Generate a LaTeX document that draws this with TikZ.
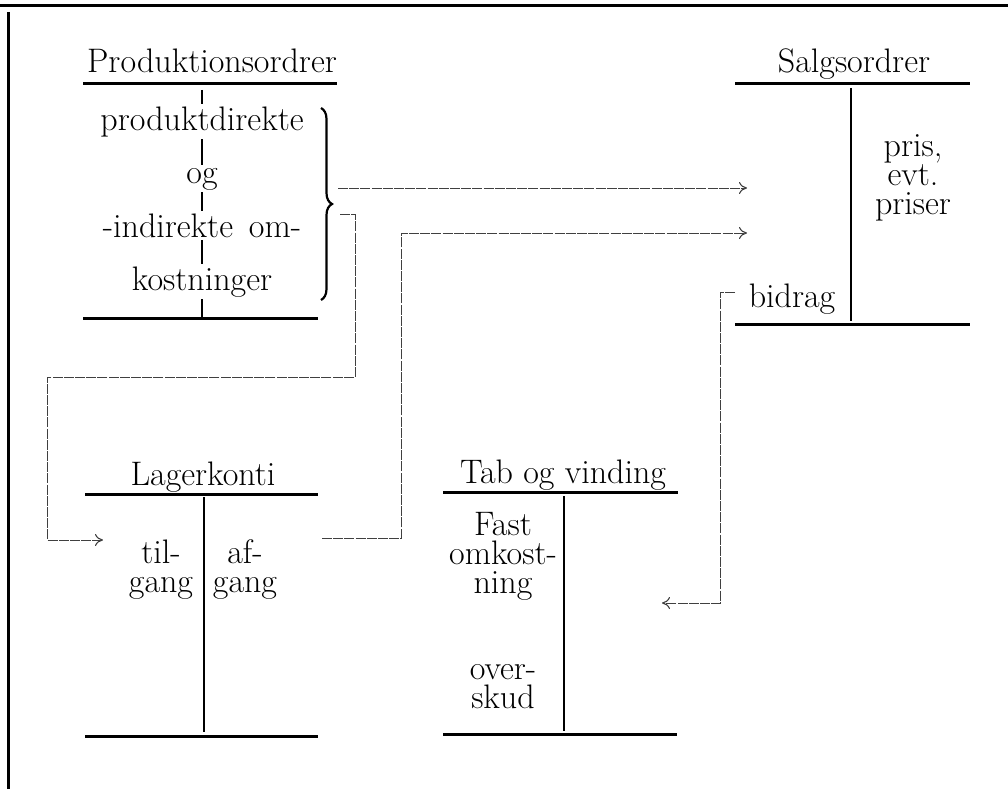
\documentclass[tikz,border=0pt]{standalone}
\usetikzlibrary{arrows.meta,decorations.pathreplacing}
\begin{document}
\begin{tikzpicture}[x=1pt,y=-1pt,
  txt/.style={font=\fontsize{34}{29}\selectfont, anchor=base, inner sep=0pt, align=center},
  ctxt/.style={txt, fill=white, inner sep=2.5pt},
  rule/.style={line width=3pt},
  stem/.style={line width=2.6pt},
  frame/.style={line width=3pt},
  conn/.style={line width=1pt, black!75, dash pattern=on 10pt off 1.2pt},
  arr/.style={conn, -{To[length=8pt,width=12pt,line width=1.1pt]}}
]
\useasboundingbox (0,0) rectangle (1008,789);
% frame
\draw[frame] (0,6) -- (1008,6);
\draw[frame] (8,12) -- (8,789);

% Produktionsordrer
\node[txt] (po) at (212,73) {Produktionsordrer};
\draw[rule] (83,84) -- (337,84);
\draw[line width=2.2pt] (202,90) -- (202,318);
\node[ctxt] (p1) at (202,130) {produktdirekte};
\node[ctxt] (p2) at (202,183) {og};
\node[ctxt] (p3) at (202,237) {-indirekte\, om-};
\node[ctxt] (p4) at (202,290) {kostninger};
\draw[rule] (83,318) -- (318,318);
\draw[line width=2.2pt, decorate, decoration={brace, amplitude=11pt}] (321,108) -- (321,300);

% Salgsordrer
\node[txt] (so) at (854,73) {Salgsordrer};
\draw[rule] (735,84) -- (970,84);
\draw[stem] (851,88) -- (851,321);
\draw[rule] (735,324) -- (970,324);
\node[txt] (s1) at (913,214) {pris,\\evt.\\priser};
\node[txt] (sb) at (792,307) {bidrag};

% Lagerkonti
\node[txt] (lk) at (203,485) {Lagerkonti};
\draw[rule] (85,494) -- (318,494);
\draw[stem] (204,497) -- (204,732);
\draw[rule] (85,736) -- (318,736);
\node[txt] (l1) at (161,592) {til-\\gang};
\node[txt] (l3) at (245,592) {af-\\gang};

% Tab og vinding
\node[txt] (tv) at (563,483) {Tab og vinding};
\draw[rule] (443,492) -- (678,492);
\draw[stem] (564,496) -- (564,731);
\draw[rule] (443,734) -- (677,734);
\node[txt] (t1) at (503,593) {Fast\\omkost-\\ning};
\node[txt] (t4) at (503,708) {over-\\skud};

% connectors
\coordinate (a1s) at (338,188);
\coordinate (a1e) at (747,188);
\draw[arr] (a1s) -- (a1e);

\coordinate (k1a) at (340,214);
\coordinate (k1b) at (355,377);
\coordinate (k1c) at (47,540);
\coordinate (k1d) at (103,540);
\draw[arr] (k1a) -| (k1b) -| (k1c) -- (k1d);

\coordinate (k2a) at (322,538);
\coordinate (k2b) at (401,233);
\coordinate (k2c) at (747,233);
\draw[arr] (k2a) -| (k2b) -- (k2c);

\coordinate (k3a) at (735,292);
\coordinate (k3b) at (720,603);
\coordinate (k3c) at (662,603);
\draw[arr] (k3a) -| (k3b) -- (k3c);
\end{tikzpicture}
\end{document}
